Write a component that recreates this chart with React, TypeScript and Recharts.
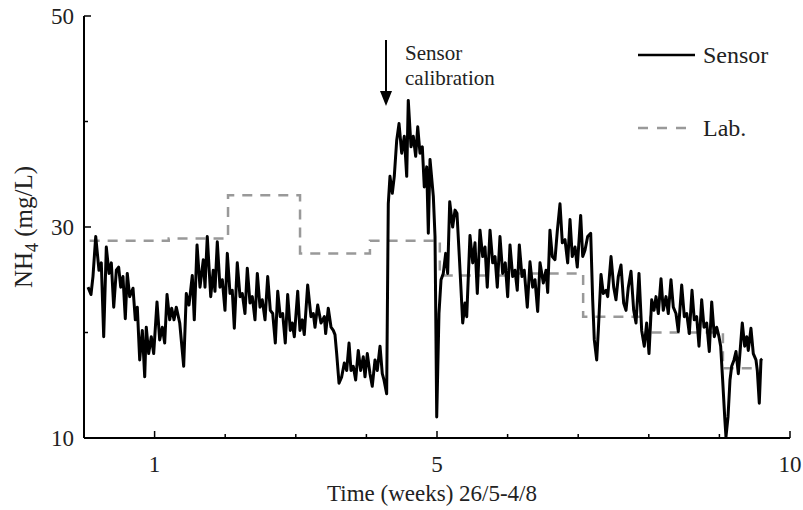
import { LineChart, Line, XAxis, YAxis, Legend } from "recharts";

// Sensor NH4 trace (weeks, mg/L)
const sensorWeeks = [
  0.057, 0.099, 0.127, 0.166, 0.212, 0.245, 0.279, 0.316, 0.354, 0.387, 0.421, 0.458, 0.491, 0.52, 0.552,
  0.585, 0.613, 0.647, 0.694, 0.727, 0.755, 0.789, 0.826, 0.86, 0.882, 0.916, 0.953, 0.987, 1.034, 1.072,
  1.109, 1.143, 1.176, 1.214, 1.242, 1.275, 1.307, 1.356, 1.412, 1.449, 1.487, 1.534, 1.562, 1.601, 1.643,
  1.69, 1.714, 1.746, 1.795, 1.831, 1.855, 1.888, 1.926, 1.959, 1.997, 2.03, 2.068, 2.1, 2.129, 2.171,
  2.21, 2.242, 2.28, 2.313, 2.351, 2.384, 2.422, 2.455, 2.493, 2.525, 2.564, 2.602, 2.639, 2.673, 2.71,
  2.744, 2.78, 2.814, 2.851, 2.885, 2.922, 2.95, 2.979, 3.027, 3.059, 3.092, 3.12, 3.168, 3.215, 3.248,
  3.272, 3.31, 3.357, 3.404, 3.423, 3.46, 3.499, 3.531, 3.555, 3.579, 3.612, 3.65, 3.687, 3.721, 3.754,
  3.782, 3.814, 3.848, 3.885, 3.919, 3.956, 3.98, 4.013, 4.051, 4.083, 4.122, 4.154, 4.193, 4.225, 4.249,
  4.287, 4.31, 4.334, 4.367, 4.395, 4.429, 4.462, 4.5, 4.537, 4.571, 4.593, 4.632, 4.664, 4.698, 4.727,
  4.759, 4.792, 4.82, 4.854, 4.877, 4.901, 4.948, 4.972, 4.996, 5.028, 5.057, 5.089, 5.123, 5.151, 5.18,
  5.222, 5.255, 5.283, 5.316, 5.35, 5.364, 5.397, 5.421, 5.467, 5.506, 5.538, 5.571, 5.609, 5.647, 5.68,
  5.712, 5.751, 5.789, 5.822, 5.854, 5.892, 5.93, 5.967, 6.001, 6.034, 6.072, 6.105, 6.137, 6.166, 6.204,
  6.236, 6.279, 6.317, 6.355, 6.388, 6.426, 6.459, 6.506, 6.544, 6.568, 6.6, 6.633, 6.671, 6.704, 6.742,
  6.775, 6.813, 6.851, 6.884, 6.916, 6.955, 6.987, 7.035, 7.064, 7.096, 7.134, 7.177, 7.205, 7.228, 7.262,
  7.285, 7.323, 7.355, 7.394, 7.418, 7.465, 7.503, 7.535, 7.568, 7.606, 7.644, 7.677, 7.71, 7.748, 7.786,
  7.819, 7.861, 7.899, 7.936, 7.97, 8.003, 8.041, 8.074, 8.102, 8.135, 8.173, 8.205, 8.244, 8.276, 8.314,
  8.347, 8.385, 8.418, 8.466, 8.503, 8.537, 8.574, 8.612, 8.644, 8.678, 8.711, 8.749, 8.782, 8.82, 8.857,
  8.891, 8.928, 8.962, 8.994, 9.018, 9.046, 9.075, 9.093, 9.122, 9.15, 9.174, 9.207, 9.235, 9.268, 9.302,
  9.324, 9.358, 9.387, 9.409, 9.447, 9.48, 9.518, 9.537, 9.565, 9.589, 9.607,
];

const sensorValues = [
  24.3, 23.6, 25.3, 29.1, 25.9, 26.6, 19.6, 28.1, 25.6, 26.6, 22.4, 25.9, 26.2, 24.3, 25.3,
  21.3, 25.6, 23.4, 24.2, 21.2, 22.4, 17.4, 20.2, 15.8, 20.5, 18.0, 19.6, 18.0, 22.9, 19.3,
  20.5, 19.0, 23.6, 21.2, 22.3, 21.2, 22.4, 20.9, 16.8, 23.7, 22.6, 25.4, 21.2, 28.3, 24.3,
  26.9, 24.3, 29.1, 23.4, 25.9, 23.9, 28.6, 24.3, 25.0, 22.1, 27.5, 23.7, 24.0, 20.4, 26.6,
  23.4, 23.7, 21.8, 26.1, 22.8, 23.4, 21.2, 25.6, 22.4, 23.1, 21.2, 25.3, 22.1, 21.8, 19.0,
  23.9, 21.5, 21.8, 19.0, 23.6, 20.2, 20.9, 19.6, 23.9, 20.2, 21.2, 19.8, 24.5, 21.5, 21.8,
  20.5, 22.6, 20.9, 21.5, 19.9, 22.3, 20.5, 20.2, 19.8, 18.0, 15.2, 15.8, 17.1, 16.4, 19.0,
  16.4, 16.8, 15.5, 18.3, 16.4, 17.7, 15.8, 18.0, 16.1, 14.9, 17.4, 16.4, 18.7, 16.1, 15.5,
  14.2, 32.2, 34.8, 33.2, 34.8, 38.2, 39.8, 37.0, 38.6, 34.8, 42.0, 37.6, 38.6, 36.7, 39.5,
  37.0, 37.6, 33.8, 35.7, 29.4, 36.4, 32.9, 29.1, 12.0, 21.8, 25.0, 25.6, 27.5, 25.6, 32.4,
  30.0, 31.6, 31.3, 27.2, 22.8, 20.9, 22.8, 21.5, 29.2, 26.6, 28.5, 23.7, 29.7, 27.2, 28.1,
  24.3, 29.7, 26.6, 27.2, 24.3, 29.1, 25.6, 26.6, 23.4, 28.3, 25.3, 25.9, 24.0, 28.3, 25.3,
  25.9, 22.4, 26.7, 24.3, 25.0, 22.0, 26.6, 24.7, 25.9, 23.8, 29.7, 27.2, 26.9, 29.6, 32.2,
  28.5, 28.8, 26.6, 30.7, 27.2, 28.1, 26.2, 31.1, 27.2, 27.8, 29.1, 29.4, 23.1, 19.3, 17.4,
  20.2, 25.5, 23.7, 24.0, 23.4, 27.2, 24.3, 23.1, 25.3, 26.4, 22.8, 22.1, 24.3, 25.8, 22.1,
  20.9, 25.6, 20.2, 18.7, 20.9, 18.0, 23.1, 22.1, 23.4, 21.8, 25.1, 22.1, 23.4, 21.8, 25.0,
  22.4, 21.8, 20.1, 24.5, 21.5, 21.8, 19.9, 24.0, 21.2, 21.5, 18.7, 23.1, 20.5, 20.9, 18.2,
  22.9, 19.6, 20.5, 19.6, 18.7, 15.5, 12.0, 10.1, 12.0, 15.5, 16.8, 17.4, 18.2, 16.1, 19.0,
  20.9, 18.7, 19.6, 18.3, 20.4, 18.0, 17.4, 16.4, 13.3, 17.4, 17.5,
];

// Lab measurements (step levels)
const labWeeks = [0.08, 1.2, 2.04, 3.06, 4.05, 5.04, 6.0, 7.07, 8.02, 9.05, 9.58];
const labValues = [28.7, 28.9, 33.0, 27.5, 28.7, 25.4, 25.6, 21.5, 20.0, 16.6, 16.6];

const xTicks = [1, 2, 3, 4, 5, 6, 7, 8, 9, 10];
const xLabels = [1, 5, 10];
const yTicks = [10, 20, 30, 40, 50];
const yLabels = [10, 30, 50];

const sensorData = sensorWeeks.map((week, i) => ({ week, value: sensorValues[i] }));
const labData = labWeeks.map((week, i) => ({ week, value: labValues[i] }));

const FONT = "'Liberation Serif', 'Times New Roman', serif";
const TEXT = "#222";

const XTick = ({ x, y, payload }: any) => {
  const major = xLabels.includes(payload.value);
  return (
    <g>
      <line x1={x} x2={x} y1={y} y2={y - (major ? 7 : 4)} stroke="#000" strokeWidth={1.5} />
      {major && (
        <text x={x} y={y + 34} textAnchor="middle" fontFamily={FONT} fontSize={23} fill={TEXT}>
          {payload.value}
        </text>
      )}
    </g>
  );
};

const YTick = ({ x, y, payload }: any) => {
  const major = yLabels.includes(payload.value);
  return (
    <g>
      <line x1={x} x2={x + (major ? 7 : 4)} y1={y} y2={y} stroke="#000" strokeWidth={1.5} />
      {major && (
        <text x={x - 10} y={y + 8} textAnchor="end" fontFamily={FONT} fontSize={23} fill={TEXT}>
          {payload.value}
        </text>
      )}
    </g>
  );
};

const LegendBox = () => (
  <svg width={165} height={115} style={{ display: "block" }}>
    <line x1={2} x2={59} y1={25} y2={25} stroke="#000" strokeWidth={2.5} />
    <text x={67} y={33} fontFamily={FONT} fontSize={24} fill={TEXT}>
      Sensor
    </text>
    <line x1={2} x2={59} y1={98} y2={98} stroke="#999" strokeWidth={2.5} strokeDasharray="10 9" />
    <text x={67} y={106} fontFamily={FONT} fontSize={24} fill={TEXT}>
      Lab.
    </text>
  </svg>
);

const CalibrationNote = () => (
  <g>
    <line x1={386} x2={386} y1={40} y2={94} stroke="#000" strokeWidth={2} />
    <path d="M380,91 L392,91 L386,106 Z" fill="#000" />
    <text x={405} y={60} fontFamily={FONT} fontSize={21} fill={TEXT}>
      Sensor
    </text>
    <text x={405} y={85} fontFamily={FONT} fontSize={21} fill={TEXT}>
      calibration
    </text>
  </g>
);

export default function App() {
  return (
    <div style={{ position: "absolute", left: 0, top: 0, background: "#fff" }}>
      <LineChart width={803} height={510} margin={{ top: 16, right: 13, bottom: 0, left: 0 }}>
        <XAxis
          type="number"
          dataKey="week"
          domain={[0, 10]}
          ticks={xTicks}
          interval={0}
          allowDataOverflow
          height={72}
          axisLine={{ stroke: "#000", strokeWidth: 2 }}
          tickLine={false}
          tickSize={0}
          tickMargin={0}
          tick={<XTick />}
          label={{
            content: () => (
              <text x={432} y={501} textAnchor="middle" fontFamily={FONT} fontSize={23} fill={TEXT}>
                Time (weeks) 26/5-4/8
              </text>
            ),
          }}
        />
        <YAxis
          type="number"
          domain={[10, 50]}
          ticks={yTicks}
          interval={0}
          allowDataOverflow
          width={84}
          axisLine={{ stroke: "#000", strokeWidth: 2 }}
          tickLine={false}
          tickSize={0}
          tickMargin={0}
          tick={<YTick />}
          label={{
            content: () => (
              <text
                transform="translate(32,227) rotate(-90)"
                textAnchor="middle"
                fontFamily={FONT}
                fontSize={25}
                fill={TEXT}
              >
                NH
                <tspan dy={6} fontSize={18}>
                  4
                </tspan>
                <tspan dy={-6}> (mg/L)</tspan>
              </text>
            ),
          }}
        />
        <Legend
          layout="horizontal"
          verticalAlign="middle"
          align="center"
          wrapperStyle={{ left: 636, top: 30, width: 165 }}
          content={() => <LegendBox />}
        />
        <Line
          data={labData}
          dataKey="value"
          type="stepAfter"
          stroke="#999"
          strokeWidth={2.5}
          strokeDasharray="10 8"
          dot={false}
          isAnimationActive={false}
        />
        <Line
          data={sensorData}
          dataKey="value"
          type="linear"
          stroke="#000"
          strokeWidth={3}
          strokeLinejoin="round"
          dot={false}
          isAnimationActive={false}
        />
        <CalibrationNote />
      </LineChart>
    </div>
  );
}
